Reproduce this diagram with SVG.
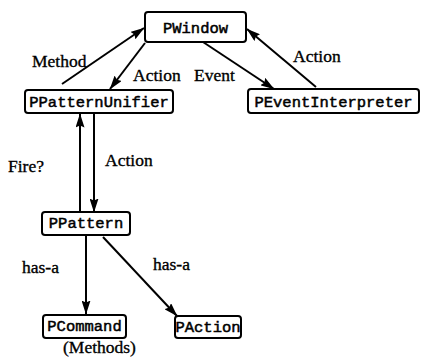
<svg xmlns="http://www.w3.org/2000/svg" width="422" height="357" viewBox="0 0 422 357">
<style>
.box{fill:#fff;stroke:#000;stroke-width:2}
.mono{font-family:"Liberation Mono","Courier New",monospace;font-size:15.5px;fill:#000;stroke:#000;stroke-width:0.5}
.lbl{font-family:"Liberation Serif","Times New Roman",serif;font-size:17.5px;fill:#000;stroke:#000;stroke-width:0.35}
.edge{stroke:#000;stroke-width:2;fill:none;marker-end:url(#ah)}
</style>
<defs>
<marker id="ah" viewBox="0 0 14 9" refX="13.5" refY="4.5" markerWidth="14" markerHeight="9" markerUnits="userSpaceOnUse" orient="auto">
<path d="M0,0 L14,4.5 L0,9 L2,4.5 z" fill="#000"/>
</marker>
</defs>
<rect width="422" height="357" fill="#fff"/>
<g id="connectors">
<line class="edge" x1="62" y1="84" x2="144" y2="28"/>
<line class="edge" x1="145" y1="43" x2="110" y2="89"/>
<line class="edge" x1="203" y1="42" x2="274" y2="89"/>
<line class="edge" x1="316" y1="87" x2="247" y2="29"/>
<line class="edge" x1="80" y1="212" x2="80" y2="114"/>
<line class="edge" x1="94" y1="114" x2="94" y2="212"/>
<line class="edge" x1="86" y1="235" x2="86" y2="314"/>
<line class="edge" x1="103" y1="237" x2="177" y2="316"/>
</g>
<g id="labels">
<text class="lbl" x="32" y="67">Method</text>
<text class="lbl" x="133" y="81">Action</text>
<text class="lbl" x="194" y="81">Event</text>
<text class="lbl" x="293" y="62">Action</text>
<text class="lbl" x="8" y="172">Fire?</text>
<text class="lbl" x="105" y="166">Action</text>
<text class="lbl" x="22" y="273">has-a</text>
<text class="lbl" x="153" y="270">has-a</text>
<text class="lbl" x="63" y="353">(Methods)</text>
</g>
<g id="PWindow"><rect class="box" x="145" y="12" width="101" height="30" rx="3"/><text class="mono" x="195.5" y="33" text-anchor="middle">PWindow</text></g>
<g id="PPatternUnifier"><rect class="box" x="25" y="90" width="148" height="23" rx="3"/><text class="mono" x="99" y="107" text-anchor="middle">PPatternUnifier</text></g>
<g id="PEventInterpreter"><rect class="box" x="248" y="89" width="171" height="24" rx="3"/><text class="mono" x="333.5" y="107" text-anchor="middle">PEventInterpreter</text></g>
<g id="PPattern"><rect class="box" x="42" y="212" width="88" height="23" rx="3"/><text class="mono" x="86" y="228" text-anchor="middle">PPattern</text></g>
<g id="PCommand"><rect class="box" x="43" y="315" width="83" height="23" rx="3"/><text class="mono" x="84.5" y="331" text-anchor="middle">PCommand</text></g>
<g id="PAction"><rect class="box" x="175" y="316" width="66" height="22" rx="3"/><text class="mono" x="208" y="332" text-anchor="middle">PAction</text></g>
</svg>
